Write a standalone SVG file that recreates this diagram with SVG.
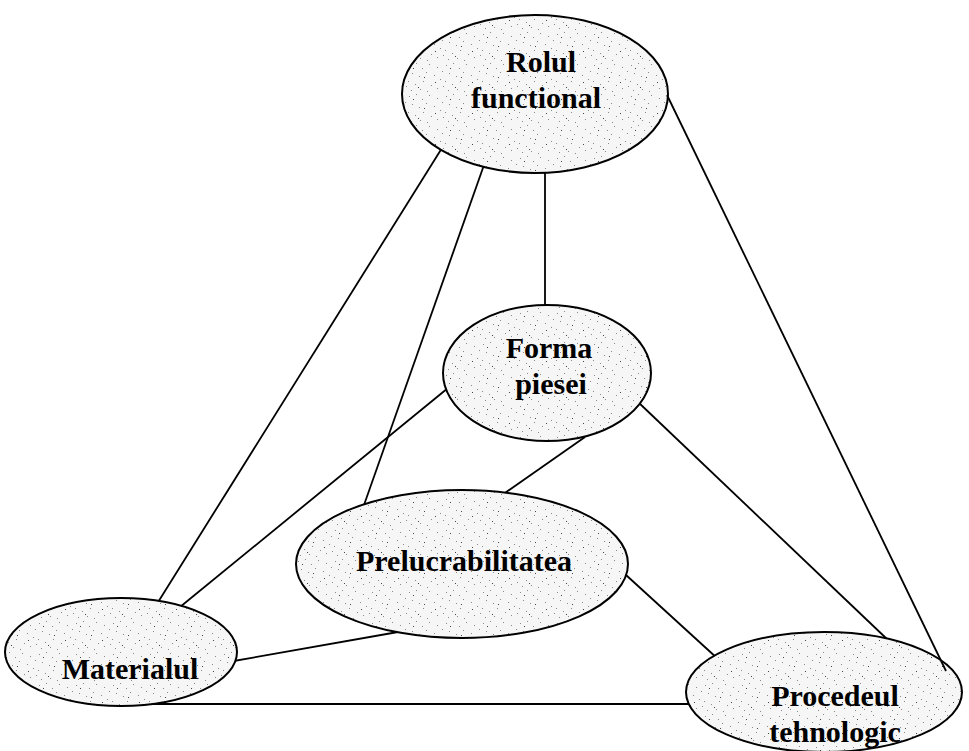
<svg xmlns="http://www.w3.org/2000/svg" width="969" height="751" viewBox="0 0 969 751">
<style>
.node{stroke:#000;stroke-width:2;fill:url(#stip)}
.lbl{font-family:"Liberation Serif","Times New Roman",serif;font-weight:bold;font-size:30px;fill:#000;text-anchor:middle}
.conn line{stroke:#000;stroke-width:1.8}
</style>
<defs>
<pattern id="stip" width="37" height="31" patternUnits="userSpaceOnUse">
<rect width="37" height="31" fill="#f6f6f6"/>
<g fill="#8a8a8a">
<rect x="2" y="3" width="1" height="1"/><rect x="9" y="1" width="1" height="1"/><rect x="15" y="6" width="1" height="1"/>
<rect x="22" y="2" width="1" height="1"/><rect x="30" y="5" width="1" height="1"/><rect x="35" y="9" width="1" height="1"/>
<rect x="5" y="11" width="1" height="1"/><rect x="12" y="14" width="1" height="1"/><rect x="19" y="10" width="1" height="1"/>
<rect x="27" y="13" width="1" height="1"/><rect x="33" y="17" width="1" height="1"/><rect x="1" y="19" width="1" height="1"/>
<rect x="8" y="22" width="1" height="1"/><rect x="16" y="19" width="1" height="1"/><rect x="24" y="23" width="1" height="1"/>
<rect x="30" y="26" width="1" height="1"/><rect x="4" y="28" width="1" height="1"/><rect x="13" y="27" width="1" height="1"/>
<rect x="20" y="29" width="1" height="1"/><rect x="36" y="24" width="1" height="1"/>
</g>
<g fill="#444">
<rect x="17" y="15" width="1" height="1"/><rect x="6" y="6" width="1" height="1"/><rect x="28" y="20" width="1" height="1"/><rect x="11" y="25" width="1" height="1"/>
</g>
</pattern>
</defs>
<rect width="969" height="751" fill="#fff"/>
<g id="connectors" class="conn">
<line x1="447" y1="140" x2="150" y2="615"/>
<line x1="484" y1="165" x2="364" y2="505"/>
<line x1="545" y1="170" x2="545" y2="308"/>
<line x1="448" y1="388" x2="158" y2="625"/>
<line x1="585" y1="437" x2="502" y2="495"/>
<line x1="638" y1="402" x2="888" y2="640"/>
<line x1="398" y1="632" x2="228" y2="662"/>
<line x1="626" y1="575" x2="718" y2="659"/>
<line x1="110" y1="704" x2="700" y2="704"/>
</g>
<g id="rolul">
<ellipse class="node" cx="535" cy="94" rx="133" ry="79"/>
<text class="lbl" x="541" y="72">Rolul</text>
<text class="lbl" x="536" y="108">functional</text>
</g>
<g id="forma">
<ellipse class="node" cx="547" cy="373" rx="104" ry="68"/>
<text class="lbl" x="549" y="358">Forma</text>
<text class="lbl" x="551" y="394">piesei</text>
</g>
<g id="prelucrabilitatea">
<ellipse class="node" cx="462" cy="564" rx="166" ry="74"/>
<text class="lbl" x="464" y="571">Prelucrabilitatea</text>
</g>
<g id="materialul">
<ellipse class="node" cx="121" cy="652" rx="116" ry="54"/>
<text class="lbl" x="130" y="679">Materialul</text>
</g>
<g id="procedeul">
<ellipse class="node" cx="824" cy="692" rx="138" ry="60"/>
<text class="lbl" x="835" y="706">Procedeul</text>
<text class="lbl" x="835" y="742">tehnologic</text>
</g>
<g id="connectors-top" class="conn">
<line x1="667" y1="95" x2="946" y2="671"/>
</g>
</svg>
